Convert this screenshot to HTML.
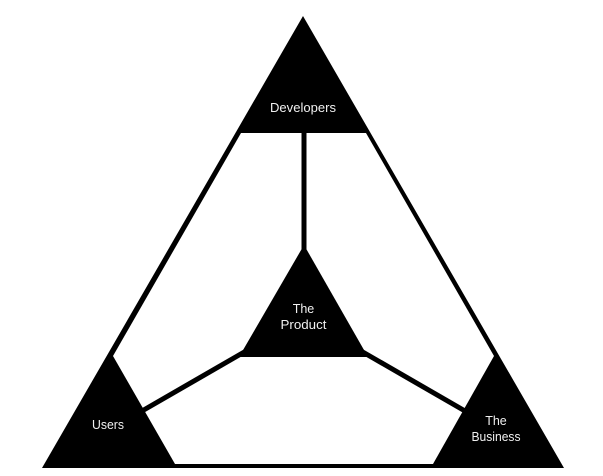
<!DOCTYPE html>
<html>
<head>
<meta charset="utf-8">
<style>
html,body{margin:0;padding:0;background:#fff;width:603px;height:476px;overflow:hidden}
svg{display:block}
text{font-family:"Liberation Sans",sans-serif;font-size:12.5px;fill:#f0f0f0;text-anchor:middle}
</style>
</head>
<body>
<svg width="603" height="476" viewBox="0 0 603 476" xmlns="http://www.w3.org/2000/svg">
<defs><filter id="b" x="-5%" y="-5%" width="110%" height="110%"><feGaussianBlur stdDeviation="0.35"/></filter></defs>
<g filter="url(#b)">
<polygon points="303,16 564,468 42,468" fill="#000"/>
<polygon points="241,133 366,133 494,356 433,464 175,464 113,356" fill="#fff"/>
<g stroke="#000" fill="none" stroke-width="5">
<line x1="304" y1="130" x2="304" y2="252"/>
<line x1="246" y1="351" x2="142" y2="411"/>
<line x1="361" y1="351" x2="465" y2="411"/>
</g>
<polygon points="304,245 368,357 239,357" fill="#000"/>
</g>
<g>
<text x="303" y="112" textLength="66" lengthAdjust="spacingAndGlyphs">Developers</text>
<text x="303.500" y="313">The</text>
<text x="303.500" y="329" textLength="46" lengthAdjust="spacingAndGlyphs">Product</text>
<text x="108" y="429" textLength="32" lengthAdjust="spacingAndGlyphs">Users</text>
<text x="496" y="425">The</text>
<text x="496" y="441" textLength="49" lengthAdjust="spacingAndGlyphs">Business</text>
</g>
</svg>
</body>
</html>
